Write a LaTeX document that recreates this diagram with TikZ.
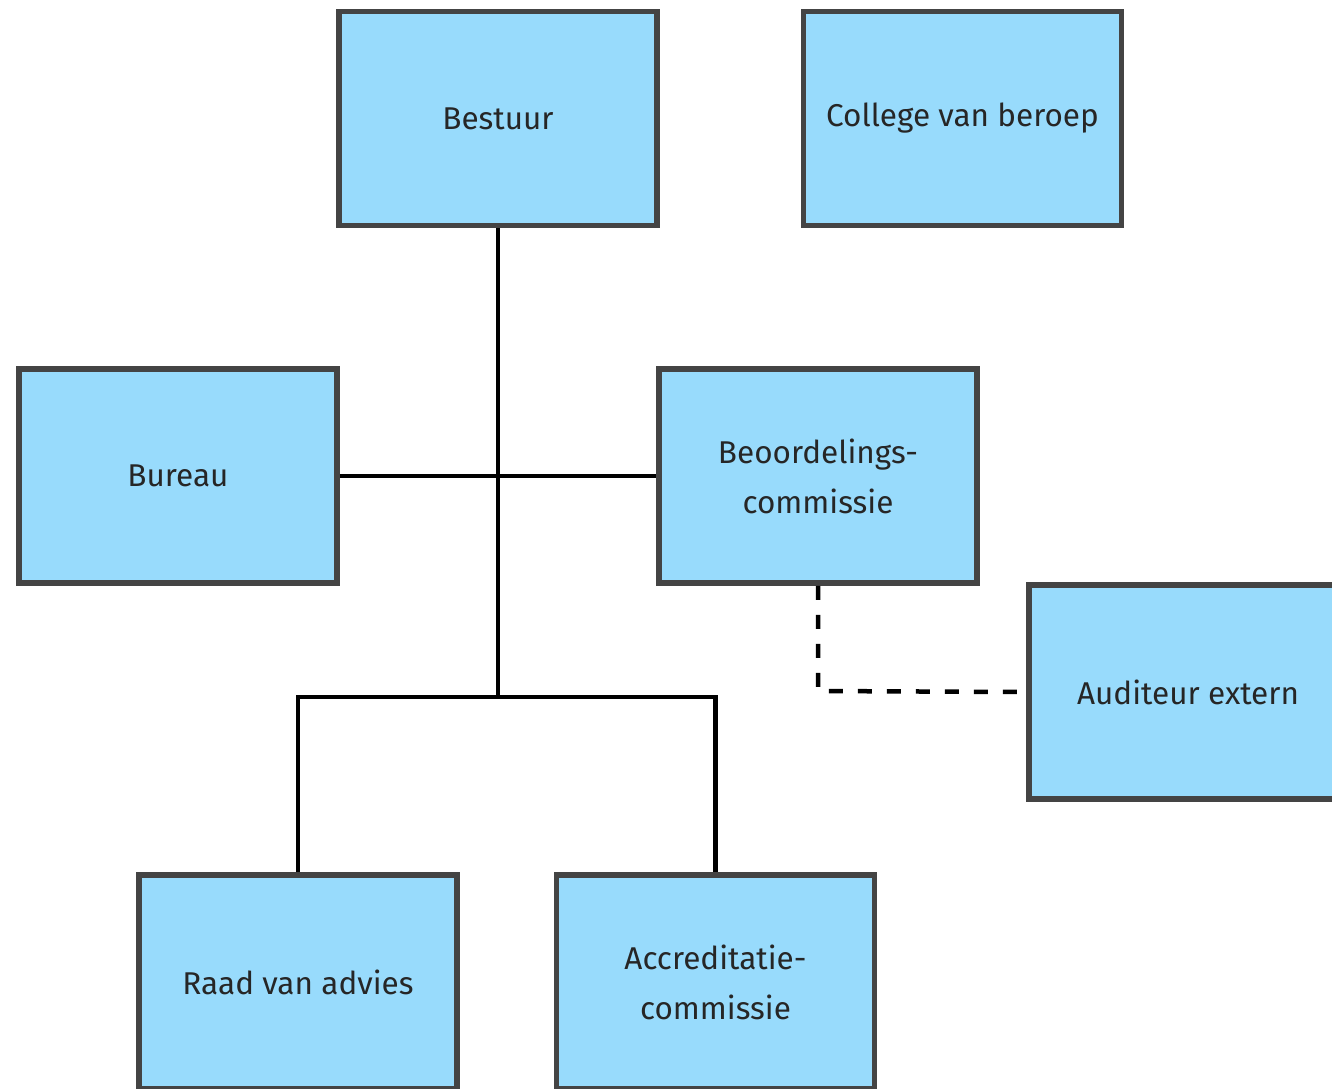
\documentclass[tikz,border=0pt]{standalone}
\usepackage{fontspec}
\setmainfont{Fira Sans}
\definecolor{boxfill}{HTML}{98DBFC}
\definecolor{boxline}{HTML}{444444}
\begin{document}
\begin{tikzpicture}[x=1pt,y=-1pt,
  orgbox/.style={draw=boxline,line width=5.5pt,fill=boxfill,minimum width=318pt,minimum height=214pt,
    inner sep=0pt,align=center,font=\fontsize{31.5}{50}\selectfont,text=black!85},
  conn/.style={line width=4.5pt,black},
  dashconn/.style={line width=4.5pt,black,dash pattern=on 14pt off 15pt}]
\useasboundingbox (0,0) rectangle (1332,1088);
\clip (0,0) rectangle (1332,1088);
\node[orgbox] (bestuur) at (498,118.5) {Bestuur};
\node[orgbox] (college) at (962.5,118.5) {College van beroep};
\node[orgbox] (bureau) at (178,476) {Bureau};
\node[orgbox] (beoord) at (818,476) {Beoordelings-\\commissie};
\node[orgbox] (audit) at (1188,692) {Auditeur extern};
\node[orgbox] (raad) at (298,982) {Raad van advies};
\node[orgbox] (accr) at (715.5,982) {Accreditatie-\\commissie};
\coordinate (hub) at (498,697);
\coordinate (hl) at (298,697);
\coordinate (hr) at (715.5,697);
\coordinate (dcorner) at (818,691);
\draw[conn] (bestuur.south) -- (hub);
\draw[conn] (bureau.east) -- (beoord.west);
\draw[conn] (raad.north) -- (hl) -- (hr) -- (accr.north);
\draw[dashconn] (beoord.south) -- (dcorner) -- (audit.west);
\end{tikzpicture}
\end{document}
